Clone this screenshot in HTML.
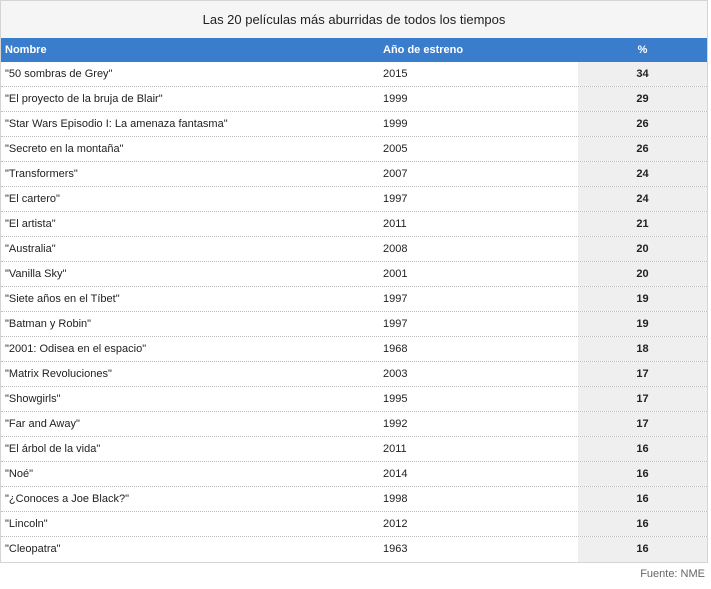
<!DOCTYPE html>
<html><head><style>
body{margin:0;background:#fff;font-family:"Liberation Sans",Arial,sans-serif;width:711px;height:589px;overflow:hidden}
.box{position:absolute;left:0;top:0;width:706px;height:561px;border:1px solid #d4d4d4;}
.title{height:37px;background:#f5f5f5;text-align:center;font-size:13px;line-height:38px;color:#222}
.head{height:24px;background:#3a7dcc;color:#fff;font-weight:bold;font-size:11px;position:relative}
.row{height:24px;border-bottom:1px dotted #bbb;position:relative;font-size:11px;color:#222}
.row:last-child{border-bottom:none;height:25px}
.c1{position:absolute;left:4px;top:0;line-height:24px}
.c2{position:absolute;left:382px;top:0;line-height:24px}
.c3{position:absolute;left:577px;width:129px;top:0;height:100%;text-align:center;line-height:24px}
.row .c3{background:#efefef;font-weight:bold}
.src{position:absolute;right:6px;top:568px;font-size:11px;color:#666}
</style></head><body>
<div class="box">
<div class="title">Las 20 películas más aburridas de todos los tiempos</div>
<div class="head"><span class="c1">Nombre</span><span class="c2">Año de estreno</span><span class="c3">%</span></div>
<div class="row"><span class="c1">"50 sombras de Grey"</span><span class="c2">2015</span><span class="c3">34</span></div>
<div class="row"><span class="c1">"El proyecto de la bruja de Blair"</span><span class="c2">1999</span><span class="c3">29</span></div>
<div class="row"><span class="c1">"Star Wars Episodio I: La amenaza fantasma"</span><span class="c2">1999</span><span class="c3">26</span></div>
<div class="row"><span class="c1">"Secreto en la montaña"</span><span class="c2">2005</span><span class="c3">26</span></div>
<div class="row"><span class="c1">"Transformers"</span><span class="c2">2007</span><span class="c3">24</span></div>
<div class="row"><span class="c1">"El cartero"</span><span class="c2">1997</span><span class="c3">24</span></div>
<div class="row"><span class="c1">"El artista"</span><span class="c2">2011</span><span class="c3">21</span></div>
<div class="row"><span class="c1">"Australia"</span><span class="c2">2008</span><span class="c3">20</span></div>
<div class="row"><span class="c1">"Vanilla Sky"</span><span class="c2">2001</span><span class="c3">20</span></div>
<div class="row"><span class="c1">"Siete años en el Tíbet"</span><span class="c2">1997</span><span class="c3">19</span></div>
<div class="row"><span class="c1">"Batman y Robin"</span><span class="c2">1997</span><span class="c3">19</span></div>
<div class="row"><span class="c1">"2001: Odisea en el espacio"</span><span class="c2">1968</span><span class="c3">18</span></div>
<div class="row"><span class="c1">"Matrix Revoluciones"</span><span class="c2">2003</span><span class="c3">17</span></div>
<div class="row"><span class="c1">"Showgirls"</span><span class="c2">1995</span><span class="c3">17</span></div>
<div class="row"><span class="c1">"Far and Away"</span><span class="c2">1992</span><span class="c3">17</span></div>
<div class="row"><span class="c1">"El árbol de la vida"</span><span class="c2">2011</span><span class="c3">16</span></div>
<div class="row"><span class="c1">"Noé"</span><span class="c2">2014</span><span class="c3">16</span></div>
<div class="row"><span class="c1">"¿Conoces a Joe Black?"</span><span class="c2">1998</span><span class="c3">16</span></div>
<div class="row"><span class="c1">"Lincoln"</span><span class="c2">2012</span><span class="c3">16</span></div>
<div class="row"><span class="c1">"Cleopatra"</span><span class="c2">1963</span><span class="c3">16</span></div>
</div>
<div class="src">Fuente: NME</div>
</body></html>
